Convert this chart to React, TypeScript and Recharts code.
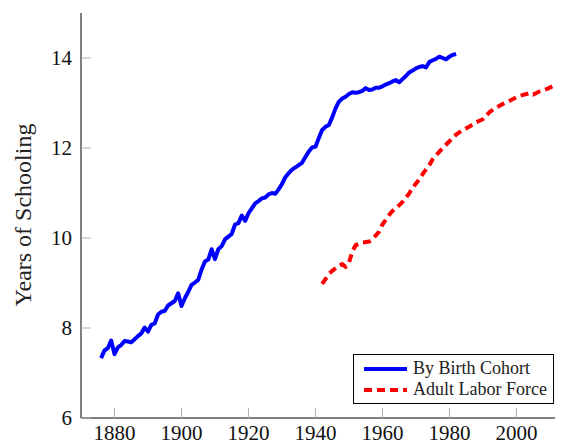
import { LineChart, Line, XAxis, YAxis, Legend } from "recharts";

// By birth cohort
const cohortYears = [
    1876, 1877, 1878, 1879, 1880, 1881, 1882, 1883, 1884, 1885, 1886, 1887, 1888, 1889, 1890,
    1891, 1892, 1893, 1894, 1895, 1896, 1897, 1898, 1899, 1900, 1901, 1902, 1903, 1904, 1905,
    1906, 1907, 1908, 1909, 1910, 1911, 1912, 1913, 1914, 1915, 1916, 1917, 1918, 1919, 1920,
    1921, 1922, 1923, 1924, 1925, 1926, 1927, 1928, 1929, 1930, 1931, 1932, 1933, 1934, 1935,
    1936, 1937, 1938, 1939, 1940, 1941, 1942, 1943, 1944, 1945, 1946, 1947, 1948, 1949, 1950,
    1951, 1952, 1953, 1954, 1955, 1956, 1957, 1958, 1959, 1960, 1961, 1962, 1963, 1964, 1965,
    1966, 1967, 1968, 1969, 1970, 1971, 1972, 1973, 1974, 1975, 1976, 1977, 1978, 1979, 1980,
    1981, 1982,
];
const cohortValues = [
    7.33, 7.5, 7.55, 7.72, 7.42, 7.57, 7.62, 7.71, 7.7, 7.68, 7.75, 7.82, 7.88, 8.01, 7.92,
    8.07, 8.1, 8.3, 8.36, 8.38, 8.5, 8.55, 8.6, 8.77, 8.49, 8.66, 8.8, 8.96, 9.01, 9.07,
    9.3, 9.48, 9.52, 9.75, 9.53, 9.75, 9.82, 9.97, 10.03, 10.09, 10.3, 10.33, 10.5, 10.38, 10.55,
    10.66, 10.77, 10.82, 10.88, 10.9, 10.97, 11.0, 10.98, 11.08, 11.2, 11.35, 11.44, 11.52, 11.57, 11.62,
    11.67, 11.8, 11.92, 12.01, 12.03, 12.22, 12.4, 12.47, 12.51, 12.68, 12.88, 13.03, 13.1, 13.14, 13.2,
    13.24, 13.23, 13.24, 13.27, 13.33, 13.29, 13.3, 13.34, 13.34, 13.37, 13.41, 13.44, 13.48, 13.51, 13.46,
    13.53, 13.6, 13.68, 13.72, 13.77, 13.8, 13.82, 13.79, 13.91, 13.95, 13.98, 14.03, 14.0, 13.97, 14.03,
    14.07, 14.09,
];

// Adult labor force
const laborYears = [
    1942, 1944, 1945, 1947, 1948, 1949, 1950, 1951, 1952, 1954, 1956, 1957, 1959, 1960, 1962,
    1963, 1965, 1966, 1968, 1969, 1971, 1972, 1974, 1975, 1977, 1978, 1980, 1982, 1984, 1986,
    1988, 1990, 1992, 1994, 1996, 1998, 2000, 2002, 2004, 2005, 2007, 2009, 2011, 2013, 2015,
];
const laborValues = [
    8.98, 9.2, 9.27, 9.38, 9.42, 9.36, 9.45, 9.7, 9.84, 9.9, 9.92, 9.97, 10.14, 10.3, 10.51,
    10.6, 10.73, 10.8, 10.99, 11.12, 11.3, 11.42, 11.62, 11.75, 11.92, 12.0, 12.15, 12.3, 12.4, 12.48,
    12.57, 12.64, 12.8, 12.9, 12.98, 13.05, 13.13, 13.18, 13.22, 13.19, 13.26, 13.31, 13.38, 13.44, 13.48,
];

const xTicks = [1880, 1900, 1920, 1940, 1960, 1980, 2000];
const yTicks = [6, 8, 10, 12, 14];

const cohortData = cohortYears.map((year, i) => ({ year, value: cohortValues[i] }));
const laborData = laborYears.map((year, i) => ({ year, value: laborValues[i] }));

const FONT = "'Liberation Serif', 'Times New Roman', serif";
const TICK_COLOR = "#b0b0b0";

const legendItems = [
    { label: "By Birth Cohort", color: "#0000ff", dash: undefined },
    { label: "Adult Labor Force", color: "#ff0000", dash: "8 5" },
];

const LegendBox = () => (
    <div
        style={{
            border: "1px solid #000",
            background: "#fff",
            width: 199,
            height: 45,
            boxSizing: "content-box",
            fontFamily: FONT,
            fontSize: 18,
            color: "#222",
            paddingTop: 3,
            textAlign: "left",
        }}
    >
        {legendItems.map((item) => (
            <div key={item.label} style={{ display: "flex", alignItems: "center", height: 21 }}>
                <svg width={43} height={10} style={{ marginLeft: 10, marginRight: 6, flex: "none" }}>
                    <line
                        x1={0}
                        y1={5}
                        x2={43}
                        y2={5}
                        stroke={item.color}
                        strokeWidth={4}
                        strokeDasharray={item.dash}
                    />
                </svg>
                <span style={{ whiteSpace: "nowrap" }}>{item.label}</span>
            </div>
        ))}
    </div>
);

const App = () => {
    return (
        <div style={{ width: 555, height: 435, overflow: "hidden" }}>
            <LineChart width={580} height={435} margin={{ top: 5, right: 18, bottom: 0, left: 0 }}>
                <XAxis
                    xAxisId="bottom"
                    dataKey="year"
                    type="number"
                    domain={[1870, 2016]}
                    ticks={xTicks}
                    allowDataOverflow
                    height={25}
                    tickSize={-10}
                    tickMargin={17}
                    tickLine={{ stroke: TICK_COLOR }}
                    axisLine={{ stroke: "#000" }}
                    tick={{ fill: "#111", fontFamily: FONT, fontSize: 21 }}
                />
                <XAxis
                    xAxisId="top"
                    orientation="top"
                    dataKey="year"
                    type="number"
                    domain={[1870, 2016]}
                    ticks={xTicks}
                    allowDataOverflow
                    height={0}
                    tickSize={-10}
                    tickLine={{ stroke: TICK_COLOR }}
                    axisLine={{ stroke: "#000" }}
                    tick={false}
                />
                <YAxis
                    yAxisId="left"
                    domain={[6, 15]}
                    ticks={yTicks}
                    width={73}
                    tickSize={-10}
                    tickMargin={19}
                    tickLine={{ stroke: TICK_COLOR }}
                    axisLine={{ stroke: "#000" }}
                    tick={{ fill: "#111", fontFamily: FONT, fontSize: 21 }}
                    label={{
                        content: () => (
                            <text
                                x={15}
                                y={207}
                                transform="rotate(-90 15 207)"
                                textAnchor="middle"
                                dominantBaseline="central"
                                fontFamily={FONT}
                                fontSize={24}
                                fill="#222"
                            >
                                Years of Schooling
                            </text>
                        ),
                    }}
                />
                <YAxis
                    yAxisId="right"
                    orientation="right"
                    domain={[6, 15]}
                    ticks={yTicks}
                    width={0}
                    tickSize={-10}
                    tickLine={{ stroke: TICK_COLOR }}
                    axisLine={{ stroke: "#000" }}
                    tick={false}
                />
                <Line
                    data={cohortData}
                    xAxisId="bottom"
                    yAxisId="left"
                    dataKey="value"
                    name="By Birth Cohort"
                    stroke="#0000ff"
                    strokeWidth={4}
                    strokeLinejoin="round"
                    dot={false}
                    isAnimationActive={false}
                />
                <Line
                    data={laborData}
                    xAxisId="bottom"
                    yAxisId="left"
                    dataKey="value"
                    name="Adult Labor Force"
                    stroke="#ff0000"
                    strokeWidth={4}
                    strokeDasharray="8 5"
                    dot={false}
                    isAnimationActive={false}
                />
                <Legend
                    layout="vertical"
                    align="center"
                    verticalAlign="middle"
                    content={() => <LegendBox />}
                    wrapperStyle={{ position: "absolute", left: 345, top: 346, width: 201, height: 50 }}
                />
            </LineChart>
        </div>
    );
};

export default App;
